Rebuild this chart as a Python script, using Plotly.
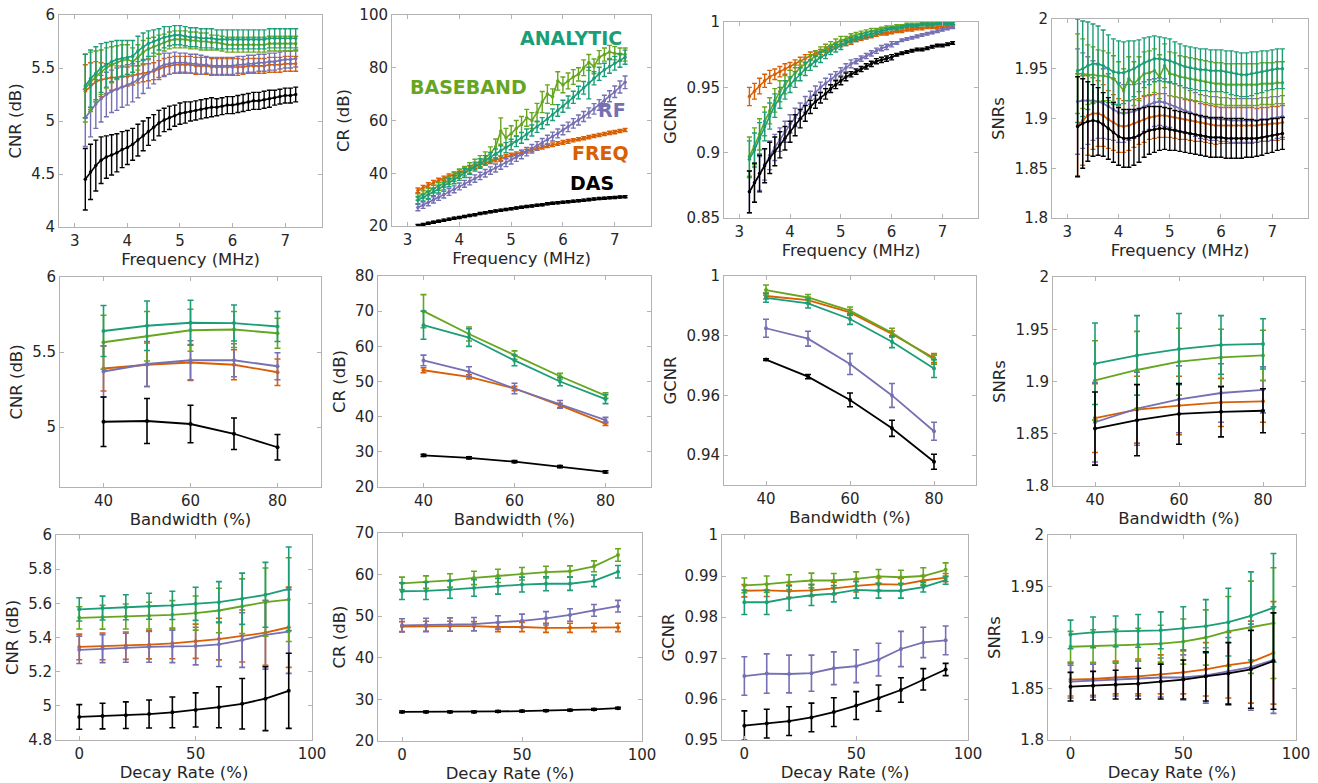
import plotly.graph_objects as go

W, H = 1318, 783

# ---------------- x values ----------------
freq = [3.2, 3.3, 3.4, 3.5, 3.6, 3.7, 3.8, 3.9, 4.0, 4.1,
        4.2, 4.3, 4.4, 4.5, 4.6, 4.7, 4.8, 4.9, 5.0, 5.1,
        5.2, 5.3, 5.4, 5.5, 5.6, 5.7, 5.8, 5.9, 6.0, 6.1,
        6.2, 6.3, 6.4, 6.5, 6.6, 6.7, 6.8, 6.9, 7.0, 7.1, 7.2]
bandwidth = [40, 50, 60, 70, 80]
decay = [0, 10, 20, 30, 40, 50, 60, 70, 80, 90]

# ---------------- CNR vs frequency ----------------
cnr_f_das = [4.45, 4.52, 4.58, 4.63, 4.66, 4.68, 4.70, 4.73, 4.75, 4.78,
             4.82, 4.86, 4.90, 4.94, 4.98, 5.01, 5.03, 5.05, 5.07, 5.08,
             5.09, 5.10, 5.11, 5.12, 5.13, 5.13, 5.14, 5.15, 5.15, 5.16,
             5.17, 5.18, 5.19, 5.19, 5.20, 5.21, 5.22, 5.23, 5.24, 5.24, 5.25]
cnr_f_das_e = [0.29, 0.26, 0.24, 0.22, 0.20, 0.19, 0.18, 0.17, 0.16, 0.15,
               0.15, 0.14, 0.13, 0.12, 0.12, 0.11, 0.11, 0.10, 0.10, 0.10,
               0.09, 0.09, 0.09, 0.09, 0.09, 0.08, 0.08, 0.08, 0.08, 0.08,
               0.08, 0.08, 0.08, 0.08, 0.08, 0.08, 0.07, 0.07, 0.07, 0.07, 0.07]
cnr_f_freq = [5.28, 5.33, 5.37, 5.39, 5.40, 5.41, 5.41, 5.42, 5.42, 5.43,
              5.44, 5.45, 5.46, 5.47, 5.49, 5.51, 5.52, 5.53, 5.53, 5.53,
              5.53, 5.52, 5.52, 5.52, 5.51, 5.51, 5.51, 5.51, 5.51, 5.51,
              5.51, 5.52, 5.52, 5.52, 5.52, 5.53, 5.53, 5.53, 5.54, 5.54, 5.54]
cnr_f_freq_e = [0.25, 0.22, 0.19, 0.16, 0.14, 0.12, 0.11, 0.10, 0.09, 0.09,
                0.08, 0.08, 0.08, 0.08, 0.08, 0.08, 0.08, 0.08, 0.08, 0.08,
                0.08, 0.08, 0.08, 0.08, 0.08, 0.08, 0.08, 0.08, 0.08, 0.08,
                0.07, 0.07, 0.07, 0.07, 0.07, 0.07, 0.07, 0.07, 0.07, 0.07, 0.07]
cnr_f_rf = [5.03, 5.10, 5.16, 5.21, 5.25, 5.28, 5.30, 5.32, 5.34, 5.36,
            5.39, 5.42, 5.45, 5.48, 5.51, 5.53, 5.54, 5.55, 5.55, 5.55,
            5.54, 5.54, 5.53, 5.53, 5.52, 5.52, 5.52, 5.52, 5.52, 5.53,
            5.53, 5.54, 5.54, 5.55, 5.55, 5.56, 5.56, 5.57, 5.58, 5.58, 5.59]
cnr_f_rf_e = [0.27, 0.25, 0.23, 0.22, 0.21, 0.20, 0.20, 0.19, 0.19, 0.18,
              0.17, 0.16, 0.14, 0.13, 0.12, 0.11, 0.10, 0.10, 0.09, 0.09,
              0.09, 0.09, 0.09, 0.08, 0.08, 0.08, 0.08, 0.08, 0.08, 0.08,
              0.08, 0.08, 0.08, 0.08, 0.08, 0.08, 0.08, 0.08, 0.08, 0.08, 0.08]
cnr_f_base = [5.31, 5.37, 5.42, 5.46, 5.50, 5.53, 5.55, 5.57, 5.58, 5.56,
              5.60, 5.65, 5.68, 5.70, 5.72, 5.74, 5.76, 5.77, 5.77, 5.77,
              5.76, 5.76, 5.75, 5.75, 5.74, 5.74, 5.73, 5.72, 5.72, 5.72,
              5.72, 5.72, 5.72, 5.72, 5.72, 5.73, 5.73, 5.73, 5.73, 5.73, 5.73]
cnr_f_base_e = [0.32, 0.28, 0.24, 0.21, 0.19, 0.17, 0.16, 0.15, 0.14, 0.13,
                0.12, 0.11, 0.10, 0.09, 0.09, 0.08, 0.08, 0.08, 0.08, 0.08,
                0.08, 0.08, 0.08, 0.08, 0.07, 0.07, 0.07, 0.07, 0.07, 0.07,
                0.07, 0.07, 0.07, 0.07, 0.07, 0.07, 0.07, 0.07, 0.07, 0.07, 0.07]
cnr_f_ana = [5.33, 5.40, 5.45, 5.50, 5.53, 5.56, 5.58, 5.59, 5.60, 5.61,
             5.66, 5.70, 5.73, 5.75, 5.77, 5.79, 5.80, 5.81, 5.81, 5.80,
             5.79, 5.79, 5.78, 5.78, 5.78, 5.77, 5.77, 5.77, 5.77, 5.77,
             5.77, 5.77, 5.77, 5.77, 5.77, 5.78, 5.78, 5.78, 5.78, 5.78, 5.78]
cnr_f_ana_e = [0.30, 0.27, 0.25, 0.23, 0.21, 0.19, 0.18, 0.17, 0.16, 0.15,
               0.14, 0.13, 0.12, 0.11, 0.10, 0.10, 0.09, 0.09, 0.09, 0.09,
               0.09, 0.09, 0.09, 0.09, 0.09, 0.09, 0.09, 0.09, 0.09, 0.09,
               0.09, 0.09, 0.09, 0.09, 0.09, 0.09, 0.09, 0.09, 0.09, 0.09, 0.09]

# ---------------- CR vs frequency ----------------
cr_f_das = [20.2, 20.6, 21.0, 21.4, 21.8, 22.2, 22.6, 22.9, 23.2, 23.6,
            24.0, 24.3, 24.7, 25.0, 25.4, 25.7, 26.0, 26.3, 26.5, 26.8,
            27.1, 27.4, 27.6, 27.9, 28.1, 28.4, 28.6, 28.8, 29.0, 29.2,
            29.4, 29.6, 29.8, 30.0, 30.2, 30.4, 30.5, 30.7, 30.8, 31.0, 31.1]
cr_f_das_e = [0.4, 0.4, 0.4, 0.4, 0.4, 0.4, 0.4, 0.4, 0.4, 0.4,
              0.4, 0.4, 0.4, 0.4, 0.4, 0.4, 0.4, 0.4, 0.4, 0.4,
              0.4, 0.4, 0.4, 0.4, 0.4, 0.4, 0.4, 0.4, 0.4, 0.4,
              0.4, 0.4, 0.4, 0.4, 0.4, 0.4, 0.4, 0.4, 0.4, 0.4, 0.4]
cr_f_freq = [33.5, 34.5, 35.5, 36.4, 37.3, 38.1, 38.9, 39.7, 40.5, 41.2,
             41.9, 42.6, 43.3, 43.9, 44.5, 45.1, 45.7, 46.3, 46.9, 47.4,
             47.9, 48.4, 48.9, 49.4, 49.9, 50.4, 50.8, 51.3, 51.7, 52.1,
             52.5, 52.9, 53.3, 53.7, 54.1, 54.5, 54.9, 55.3, 55.6, 56.0, 56.4]
cr_f_freq_e = [0.9, 0.9, 0.9, 0.9, 0.8, 0.8, 0.8, 0.8, 0.8, 0.8,
               0.8, 0.8, 0.8, 0.8, 0.8, 0.8, 0.8, 0.7, 0.7, 0.7,
               0.7, 0.7, 0.7, 0.7, 0.7, 0.7, 0.7, 0.7, 0.7, 0.7,
               0.6, 0.6, 0.6, 0.6, 0.6, 0.6, 0.6, 0.6, 0.6, 0.6, 0.6]
cr_f_rf = [27.0, 27.9, 28.9, 29.9, 30.9, 31.9, 32.9, 33.9, 35.0, 36.0,
           37.0, 38.0, 39.0, 40.0, 41.0, 42.0, 43.0, 44.0, 45.0, 46.0,
           47.1, 48.2, 49.3, 50.4, 51.5, 52.7, 53.9, 55.1, 56.4, 57.6,
           58.9, 60.2, 61.5, 62.9, 64.4, 65.9, 67.5, 69.2, 70.9, 72.7, 74.5]
cr_f_rf_e = [1.2, 1.2, 1.2, 1.2, 1.2, 1.3, 1.3, 1.3, 1.3, 1.3,
             1.4, 1.4, 1.4, 1.4, 1.4, 1.5, 1.5, 1.5, 1.5, 1.5,
             1.6, 1.6, 1.6, 1.6, 1.7, 1.7, 1.7, 1.7, 1.8, 1.8,
             1.8, 1.9, 1.9, 1.9, 2.0, 2.0, 2.1, 2.1, 2.2, 2.3, 2.4]
cr_f_base = [31.0, 32.0, 33.0, 34.0, 35.0, 36.2, 37.4, 38.6, 39.8, 40.8,
             42.0, 43.3, 44.5, 45.8, 47.5, 50.0, 56.0, 53.5, 55.0, 57.0,
             58.5, 61.0, 60.0, 63.0, 67.0, 70.0, 69.0, 75.0, 73.5, 75.0,
             76.5, 77.5, 80.0, 82.0, 80.5, 84.0, 85.0, 86.0, 85.5, 85.0, 85.0]
cr_f_base_e = [1.2, 1.3, 1.3, 1.4, 1.5, 1.5, 1.6, 1.7, 1.8, 1.8,
               2.0, 2.0, 2.2, 2.3, 2.5, 3.0, 5.0, 3.5, 3.0, 3.0,
               3.0, 3.2, 3.0, 3.5, 4.0, 3.5, 3.0, 3.5, 3.0, 3.0,
               2.8, 2.5, 3.0, 3.0, 2.8, 2.5, 2.5, 2.5, 2.5, 2.5, 2.5]
cr_f_ana = [29.8, 30.8, 31.8, 32.9, 34.0, 35.2, 36.4, 37.6, 38.9, 40.1,
            41.3, 42.5, 43.7, 44.9, 46.1, 47.3, 48.5, 49.7, 50.9, 52.1,
            53.4, 54.8, 56.2, 57.6, 59.0, 60.6, 62.2, 63.8, 65.4, 67.0,
            68.8, 70.6, 72.4, 74.2, 76.0, 77.7, 79.2, 80.5, 81.7, 82.8, 84.0]
cr_f_ana_e = [1.3, 1.3, 1.4, 1.4, 1.5, 1.5, 1.5, 1.6, 1.6, 1.7,
              1.7, 1.7, 1.8, 1.8, 1.8, 1.9, 1.9, 1.9, 2.0, 2.0,
              2.0, 2.0, 2.1, 2.1, 2.1, 2.2, 2.2, 2.2, 2.3, 2.3,
              2.3, 2.4, 2.4, 6.0, 2.5, 2.5, 2.5, 2.6, 2.6, 2.6, 2.7]

# ---------------- GCNR vs frequency ----------------
gc_f_das = [0.870, 0.877, 0.884, 0.890, 0.896, 0.901, 0.906, 0.911, 0.916, 0.921,
            0.926, 0.930, 0.935, 0.939, 0.942, 0.945, 0.949, 0.952, 0.955, 0.958,
            0.960, 0.962, 0.964, 0.966, 0.968, 0.970, 0.971, 0.972, 0.973, 0.975,
            0.976, 0.977, 0.978, 0.979, 0.979, 0.980, 0.981, 0.982, 0.982, 0.983, 0.984]
gc_f_das_e = [0.016, 0.015, 0.014, 0.013, 0.012, 0.011, 0.010, 0.009, 0.008, 0.008,
              0.007, 0.006, 0.005, 0.005, 0.004, 0.004, 0.003, 0.003, 0.003, 0.003,
              0.002, 0.002, 0.002, 0.002, 0.002, 0.002, 0.002, 0.002, 0.002, 0.001,
              0.001, 0.001, 0.001, 0.001, 0.001, 0.001, 0.001, 0.001, 0.001, 0.001, 0.001]
gc_f_freq = [0.943, 0.947, 0.951, 0.955, 0.958, 0.960, 0.962, 0.964, 0.966, 0.968,
             0.970, 0.972, 0.974, 0.976, 0.977, 0.979, 0.980, 0.982, 0.983, 0.984,
             0.985, 0.986, 0.987, 0.988, 0.989, 0.990, 0.991, 0.991, 0.992, 0.993,
             0.993, 0.994, 0.994, 0.995, 0.995, 0.996, 0.996, 0.996, 0.997, 0.997, 0.997]
gc_f_freq_e = [0.007, 0.006, 0.006, 0.005, 0.005, 0.004, 0.004, 0.004, 0.003, 0.003,
               0.003, 0.003, 0.003, 0.002, 0.002, 0.002, 0.002, 0.002, 0.002, 0.002,
               0.002, 0.001, 0.001, 0.001, 0.001, 0.001, 0.001, 0.001, 0.001, 0.001,
               0.001, 0.001, 0.001, 0.001, 0.001, 0.001, 0.001, 0.001, 0.001, 0.001, 0.001]
gc_f_rf = [0.870, 0.877, 0.884, 0.891, 0.898, 0.904, 0.910, 0.916, 0.922, 0.927,
           0.932, 0.937, 0.942, 0.946, 0.950, 0.953, 0.956, 0.959, 0.962, 0.965,
           0.968, 0.970, 0.972, 0.974, 0.976, 0.978, 0.980, 0.981, 0.983, 0.984,
           0.986, 0.987, 0.988, 0.989, 0.990, 0.991, 0.992, 0.993, 0.994, 0.995, 0.996]
gc_f_rf_e = [0.016, 0.015, 0.013, 0.012, 0.011, 0.010, 0.009, 0.008, 0.007, 0.007,
             0.006, 0.006, 0.005, 0.005, 0.004, 0.004, 0.004, 0.003, 0.003, 0.003,
             0.003, 0.002, 0.002, 0.002, 0.002, 0.002, 0.002, 0.002, 0.002, 0.001,
             0.001, 0.001, 0.001, 0.001, 0.001, 0.001, 0.001, 0.001, 0.001, 0.001, 0.001]
gc_f_base = [0.897, 0.905, 0.914, 0.924, 0.932, 0.940, 0.947, 0.952, 0.957, 0.961,
             0.965, 0.968, 0.971, 0.974, 0.977, 0.980, 0.982, 0.984, 0.986, 0.987,
             0.989, 0.990, 0.991, 0.992, 0.993, 0.994, 0.995, 0.996, 0.996, 0.997,
             0.997, 0.998, 0.998, 0.998, 0.999, 0.999, 0.999, 0.999, 0.999, 0.999, 0.999]
gc_f_base_e = [0.015, 0.014, 0.012, 0.011, 0.010, 0.009, 0.008, 0.007, 0.006, 0.006,
               0.005, 0.005, 0.004, 0.004, 0.004, 0.003, 0.003, 0.003, 0.003, 0.002,
               0.002, 0.002, 0.002, 0.002, 0.002, 0.001, 0.001, 0.001, 0.001, 0.001,
               0.001, 0.001, 0.001, 0.001, 0.001, 0.001, 0.001, 0.001, 0.001, 0.001, 0.001]
gc_f_ana = [0.895, 0.902, 0.911, 0.920, 0.928, 0.936, 0.942, 0.948, 0.952, 0.956,
            0.960, 0.964, 0.967, 0.970, 0.973, 0.975, 0.978, 0.980, 0.982, 0.984,
            0.986, 0.987, 0.989, 0.990, 0.991, 0.992, 0.993, 0.994, 0.995, 0.995,
            0.996, 0.997, 0.997, 0.997, 0.998, 0.998, 0.998, 0.999, 0.999, 0.999, 0.999]
gc_f_ana_e = [0.014, 0.013, 0.012, 0.011, 0.010, 0.009, 0.008, 0.007, 0.006, 0.006,
              0.005, 0.005, 0.004, 0.004, 0.004, 0.003, 0.003, 0.003, 0.003, 0.002,
              0.002, 0.002, 0.002, 0.002, 0.002, 0.001, 0.001, 0.001, 0.001, 0.001,
              0.001, 0.001, 0.001, 0.001, 0.001, 0.001, 0.001, 0.001, 0.001, 0.001, 0.001]

# ---------------- SNRs vs frequency ----------------
snr_f_das = [1.892, 1.895, 1.897, 1.898, 1.897, 1.894, 1.890, 1.886, 1.882, 1.880,
             1.880, 1.881, 1.883, 1.886, 1.888, 1.889, 1.890, 1.890, 1.889, 1.888,
             1.887, 1.886, 1.885, 1.884, 1.883, 1.882, 1.881, 1.881, 1.881, 1.880,
             1.880, 1.880, 1.880, 1.880, 1.880, 1.880, 1.881, 1.882, 1.883, 1.884, 1.885]
snr_f_das_e = [0.050, 0.045, 0.040, 0.036, 0.034, 0.032, 0.031, 0.030, 0.029, 0.029,
               0.029, 0.028, 0.027, 0.025, 0.024, 0.023, 0.022, 0.021, 0.021, 0.020,
               0.020, 0.020, 0.020, 0.020, 0.020, 0.020, 0.020, 0.020, 0.020, 0.020,
               0.020, 0.020, 0.020, 0.019, 0.019, 0.018, 0.018, 0.017, 0.017, 0.016, 0.016]
snr_f_freq = [1.893, 1.898, 1.903, 1.905, 1.905, 1.903, 1.899, 1.896, 1.893, 1.892,
              1.893, 1.895, 1.897, 1.899, 1.901, 1.902, 1.903, 1.903, 1.902, 1.901,
              1.900, 1.899, 1.898, 1.897, 1.896, 1.895, 1.894, 1.893, 1.893, 1.893,
              1.893, 1.893, 1.893, 1.893, 1.893, 1.893, 1.894, 1.894, 1.895, 1.895, 1.896]
snr_f_freq_e = [0.052, 0.045, 0.040, 0.036, 0.033, 0.031, 0.029, 0.028, 0.027, 0.026,
                0.025, 0.024, 0.023, 0.023, 0.022, 0.022, 0.022, 0.022, 0.021, 0.021,
                0.021, 0.020, 0.020, 0.020, 0.019, 0.019, 0.019, 0.019, 0.018, 0.018,
                0.018, 0.018, 0.018, 0.018, 0.018, 0.017, 0.017, 0.017, 0.017, 0.017, 0.017]
snr_f_rf = [1.917, 1.918, 1.918, 1.918, 1.917, 1.915, 1.912, 1.909, 1.906, 1.905,
            1.906, 1.907, 1.909, 1.912, 1.914, 1.916, 1.917, 1.916, 1.914, 1.912,
            1.910, 1.908, 1.906, 1.904, 1.902, 1.901, 1.900, 1.900, 1.899, 1.899,
            1.898, 1.898, 1.898, 1.898, 1.898, 1.898, 1.899, 1.899, 1.900, 1.901, 1.902]
snr_f_rf_e = [0.053, 0.048, 0.044, 0.040, 0.037, 0.035, 0.033, 0.031, 0.030, 0.029,
              0.028, 0.027, 0.026, 0.025, 0.025, 0.024, 0.024, 0.024, 0.023, 0.023,
              0.023, 0.023, 0.022, 0.022, 0.022, 0.022, 0.022, 0.022, 0.022, 0.022,
              0.022, 0.022, 0.022, 0.022, 0.022, 0.022, 0.022, 0.022, 0.022, 0.021, 0.021]
snr_f_base = [1.945, 1.945, 1.944, 1.944, 1.943, 1.943, 1.942, 1.940, 1.935, 1.928,
              1.940, 1.935, 1.940, 1.945, 1.946, 1.948, 1.942, 1.953, 1.945, 1.944,
              1.942, 1.941, 1.940, 1.939, 1.938, 1.937, 1.936, 1.935, 1.935, 1.934,
              1.934, 1.934, 1.934, 1.934, 1.934, 1.934, 1.935, 1.935, 1.935, 1.936, 1.936]
snr_f_base_e = [0.040, 0.035, 0.030, 0.028, 0.026, 0.025, 0.024, 0.023, 0.022, 0.022,
                0.022, 0.022, 0.022, 0.022, 0.022, 0.022, 0.022, 0.022, 0.022, 0.022,
                0.021, 0.021, 0.021, 0.021, 0.021, 0.021, 0.021, 0.021, 0.021, 0.021,
                0.021, 0.021, 0.021, 0.021, 0.021, 0.021, 0.021, 0.021, 0.021, 0.021, 0.021]
snr_f_ana = [1.948, 1.950, 1.953, 1.955, 1.955, 1.953, 1.950, 1.947, 1.946, 1.946,
             1.948, 1.950, 1.953, 1.956, 1.958, 1.960, 1.960, 1.959, 1.958, 1.956,
             1.954, 1.952, 1.951, 1.950, 1.949, 1.949, 1.948, 1.948, 1.948, 1.947,
             1.946, 1.945, 1.944, 1.944, 1.945, 1.946, 1.947, 1.948, 1.949, 1.950, 1.950]
snr_f_ana_e = [0.052, 0.048, 0.044, 0.040, 0.038, 0.036, 0.034, 0.033, 0.032, 0.031,
               0.030, 0.028, 0.026, 0.025, 0.024, 0.023, 0.022, 0.022, 0.022, 0.021,
               0.021, 0.021, 0.021, 0.021, 0.021, 0.021, 0.021, 0.021, 0.021, 0.021,
               0.022, 0.022, 0.022, 0.022, 0.022, 0.021, 0.021, 0.020, 0.020, 0.020, 0.020]

# ---------------- Bandwidth panels ----------------
cnr_b_das = [5.035, 5.040, 5.020, 4.955, 4.865]
cnr_b_das_e = [0.165, 0.150, 0.125, 0.105, 0.085]
cnr_b_freq = [5.390, 5.415, 5.430, 5.415, 5.365]
cnr_b_freq_e = [0.150, 0.145, 0.120, 0.100, 0.088]
cnr_b_rf = [5.370, 5.420, 5.445, 5.445, 5.405]
cnr_b_rf_e = [0.170, 0.150, 0.130, 0.110, 0.090]
cnr_b_base = [5.565, 5.605, 5.645, 5.650, 5.625]
cnr_b_base_e = [0.180, 0.165, 0.140, 0.120, 0.100]
cnr_b_ana = [5.640, 5.675, 5.695, 5.693, 5.670]
cnr_b_ana_e = [0.170, 0.165, 0.150, 0.120, 0.100]

cr_b_das = [29.0, 28.3, 27.2, 25.8, 24.3]
cr_b_das_e = [0.3, 0.3, 0.3, 0.3, 0.3]
cr_b_freq = [53.2, 51.3, 48.0, 43.2, 38.0]
cr_b_freq_e = [0.7, 0.6, 0.6, 0.6, 0.5]
cr_b_rf = [56.0, 52.8, 48.0, 43.5, 39.0]
cr_b_rf_e = [1.5, 1.4, 1.5, 1.1, 0.8]
cr_b_base = [70.0, 63.5, 57.5, 51.5, 46.0]
cr_b_base_e = [4.7, 2.0, 1.2, 0.8, 0.8]
cr_b_ana = [66.0, 62.5, 56.0, 50.0, 45.0]
cr_b_ana_e = [4.0, 2.5, 1.5, 1.2, 1.3]

gc_b_das = [0.9720, 0.9663, 0.9585, 0.9490, 0.9378]
gc_b_das_e = [0.0003, 0.0007, 0.0023, 0.0027, 0.0025]
gc_b_freq = [0.9933, 0.9919, 0.9878, 0.9806, 0.9725]
gc_b_freq_e = [0.0010, 0.0010, 0.0010, 0.0010, 0.0015]
gc_b_rf = [0.9825, 0.9790, 0.9705, 0.9600, 0.9480]
gc_b_rf_e = [0.0030, 0.0025, 0.0035, 0.0040, 0.0030]
gc_b_base = [0.9953, 0.9928, 0.9884, 0.9810, 0.9720]
gc_b_base_e = [0.0017, 0.0010, 0.0012, 0.0015, 0.0015]
gc_b_ana = [0.9927, 0.9908, 0.9856, 0.9780, 0.9690]
gc_b_ana_e = [0.0015, 0.0015, 0.0018, 0.0020, 0.0030]

snr_b_das = [1.855, 1.863, 1.869, 1.871, 1.872]
snr_b_das_e = [0.035, 0.034, 0.029, 0.024, 0.021]
snr_b_freq = [1.865, 1.873, 1.877, 1.880, 1.881]
snr_b_freq_e = [0.033, 0.032, 0.028, 0.023, 0.020]
snr_b_rf = [1.861, 1.874, 1.883, 1.889, 1.892]
snr_b_rf_e = [0.038, 0.035, 0.032, 0.028, 0.022]
snr_b_base = [1.901, 1.911, 1.919, 1.923, 1.925]
snr_b_base_e = [0.038, 0.037, 0.032, 0.027, 0.024]
snr_b_ana = [1.917, 1.925, 1.931, 1.935, 1.936]
snr_b_ana_e = [0.039, 0.038, 0.034, 0.028, 0.024]

# ---------------- Decay rate panels ----------------
cnr_d_das = [4.935, 4.940, 4.945, 4.952, 4.962, 4.976, 4.992, 5.012, 5.042, 5.088]
cnr_d_das_e = [0.072, 0.075, 0.078, 0.082, 0.090, 0.100, 0.120, 0.148, 0.187, 0.220]
cnr_d_freq = [5.345, 5.348, 5.352, 5.358, 5.366, 5.378, 5.391, 5.409, 5.428, 5.460]
cnr_d_freq_e = [0.075, 0.078, 0.080, 0.083, 0.090, 0.100, 0.122, 0.152, 0.190, 0.235]
cnr_d_rf = [5.328, 5.335, 5.340, 5.345, 5.348, 5.350, 5.360, 5.385, 5.415, 5.435]
cnr_d_rf_e = [0.080, 0.082, 0.085, 0.090, 0.095, 0.110, 0.130, 0.160, 0.200, 0.245]
cnr_d_base = [5.515, 5.519, 5.523, 5.528, 5.533, 5.543, 5.558, 5.583, 5.607, 5.622]
cnr_d_base_e = [0.065, 0.070, 0.073, 0.078, 0.083, 0.100, 0.130, 0.160, 0.200, 0.245]
cnr_d_ana = [5.565, 5.572, 5.577, 5.583, 5.588, 5.597, 5.607, 5.627, 5.650, 5.685]
cnr_d_ana_e = [0.068, 0.070, 0.073, 0.076, 0.083, 0.097, 0.120, 0.150, 0.190, 0.245]

cr_d_das = [27.0, 27.0, 27.0, 27.0, 27.1, 27.2, 27.3, 27.4, 27.6, 27.9]
cr_d_das_e = [0.2, 0.2, 0.2, 0.2, 0.2, 0.2, 0.2, 0.2, 0.2, 0.2]
cr_d_freq = [47.5, 47.6, 47.6, 47.6, 47.4, 47.4, 47.2, 47.2, 47.3, 47.3]
cr_d_freq_e = [1.2, 1.2, 1.2, 1.1, 1.1, 1.1, 1.1, 1.1, 1.0, 1.0]
cr_d_rf = [47.8, 47.9, 48.0, 48.1, 48.5, 48.9, 49.5, 50.3, 51.4, 52.4]
cr_d_rf_e = [1.6, 1.6, 1.6, 1.6, 1.6, 1.6, 1.6, 1.5, 1.4, 1.4]
cr_d_base = [57.9, 58.2, 58.6, 59.2, 59.7, 60.2, 60.6, 60.8, 62.0, 64.7]
cr_d_base_e = [1.5, 1.5, 1.6, 1.6, 1.6, 1.5, 1.4, 1.3, 1.3, 1.5]
cr_d_ana = [56.0, 56.1, 56.4, 56.8, 57.2, 57.6, 57.8, 57.8, 58.5, 60.7]
cr_d_ana_e = [2.0, 2.1, 2.1, 2.0, 1.9, 1.8, 1.7, 1.6, 1.4, 1.5]

gc_d_das = [0.9535, 0.9540, 0.9546, 0.9555, 0.9568, 0.9584, 0.9602, 0.9622, 0.9648, 0.9672]
gc_d_das_e = [0.0036, 0.0035, 0.0035, 0.0035, 0.0035, 0.0034, 0.0032, 0.0030, 0.0026, 0.0015]
gc_d_freq = [0.9864, 0.9865, 0.9863, 0.9865, 0.9870, 0.9876, 0.9880, 0.9879, 0.9889, 0.9896]
gc_d_freq_e = [0.0015, 0.0015, 0.0015, 0.0015, 0.0015, 0.0015, 0.0015, 0.0015, 0.0012, 0.0010]
gc_d_rf = [0.9656, 0.9662, 0.9661, 0.9663, 0.9675, 0.9680, 0.9696, 0.9722, 0.9738, 0.9743]
gc_d_rf_e = [0.0047, 0.0048, 0.0046, 0.0044, 0.0040, 0.0040, 0.0040, 0.0043, 0.0037, 0.0035]
gc_d_base = [0.9877, 0.9880, 0.9885, 0.9889, 0.9889, 0.9893, 0.9899, 0.9897, 0.9900, 0.9915]
gc_d_base_e = [0.0018, 0.0020, 0.0018, 0.0018, 0.0017, 0.0017, 0.0017, 0.0017, 0.0020, 0.0017]
gc_d_ana = [0.9836, 0.9836, 0.9846, 0.9853, 0.9857, 0.9866, 0.9864, 0.9864, 0.9873, 0.9890]
gc_d_ana_e = [0.0030, 0.0030, 0.0030, 0.0025, 0.0020, 0.0020, 0.0018, 0.0018, 0.0012, 0.0010]

snr_d_das = [1.852, 1.853, 1.854, 1.855, 1.857, 1.859, 1.862, 1.865, 1.869, 1.877]
snr_d_das_e = [0.014, 0.014, 0.014, 0.015, 0.017, 0.019, 0.024, 0.030, 0.038, 0.047]
snr_d_freq = [1.859, 1.8595, 1.861, 1.862, 1.864, 1.866, 1.869, 1.873, 1.876, 1.885]
snr_d_freq_e = [0.016, 0.016, 0.016, 0.017, 0.019, 0.021, 0.026, 0.032, 0.040, 0.050]
snr_d_rf = [1.857, 1.858, 1.859, 1.860, 1.861, 1.861, 1.863, 1.867, 1.871, 1.878]
snr_d_rf_e = [0.016, 0.016, 0.016, 0.017, 0.019, 0.022, 0.027, 0.033, 0.042, 0.052]
snr_d_base = [1.891, 1.8915, 1.892, 1.893, 1.894, 1.896, 1.900, 1.906, 1.910, 1.914]
snr_d_base_e = [0.015, 0.016, 0.016, 0.016, 0.018, 0.022, 0.027, 0.034, 0.045, 0.054]
snr_d_ana = [1.903, 1.905, 1.906, 1.9065, 1.907, 1.909, 1.911, 1.915, 1.921, 1.929]
snr_d_ana_e = [0.014, 0.015, 0.015, 0.016, 0.018, 0.021, 0.026, 0.033, 0.043, 0.053]

# ---------------- tick labels ----------------
ticks_cnr_f = [4, 4.5, 5, 5.5, 6]
ticks_cr_f = [20, 40, 60, 80, 100]
ticks_gc_f = [0.85, 0.9, 0.95, 1]
ticks_snr = [1.8, 1.85, 1.9, 1.95, 2]
ticks_cnr_b = [5, 5.5, 6]
ticks_cr_b = [20, 30, 40, 50, 60, 70, 80]
ticks_gc_b = [0.94, 0.96, 0.98, 1]
ticks_cnr_d = [4.8, 5, 5.2, 5.4, 5.6, 5.8, 6]
ticks_cr_d = [20, 30, 40, 50, 60, 70]
ticks_gc_d = [0.95, 0.96, 0.97, 0.98, 0.99, 1]
ticks_freq = [3, 4, 5, 6, 7]
ticks_bw = [40, 60, 80]
ticks_decay = [0, 50, 100]

methods = ["FREQ", "RF", "BASEBAND", "ANALYTIC", "DAS"]
colors = {"DAS": "#000000", "FREQ": "#D95F02", "RF": "#7570B3",
          "BASEBAND": "#66A61E", "ANALYTIC": "#1B9E77"}

def fmt(v):
    s = ("%.3f" % v).rstrip("0").rstrip(".")
    return s

panels = [
    dict(x=freq, s={"DAS": (cnr_f_das, cnr_f_das_e), "FREQ": (cnr_f_freq, cnr_f_freq_e), "RF": (cnr_f_rf, cnr_f_rf_e),
                    "BASEBAND": (cnr_f_base, cnr_f_base_e), "ANALYTIC": (cnr_f_ana, cnr_f_ana_e)},
         box=(59, 322, 15, 227), xr=[2.7, 7.7], yr=[4, 6], xt=ticks_freq, yt=ticks_cnr_f,
         xl="Frequency (MHz)", yl="CNR (dB)"),
    dict(x=freq, s={"DAS": (cr_f_das, cr_f_das_e), "FREQ": (cr_f_freq, cr_f_freq_e), "RF": (cr_f_rf, cr_f_rf_e),
                    "BASEBAND": (cr_f_base, cr_f_base_e), "ANALYTIC": (cr_f_ana, cr_f_ana_e)},
         box=(392, 651, 15, 226), xr=[2.7, 7.7], yr=[20, 100], xt=ticks_freq, yt=ticks_cr_f,
         xl="Frequency (MHz)", yl="CR (dB)"),
    dict(x=freq, s={"DAS": (gc_f_das, gc_f_das_e), "FREQ": (gc_f_freq, gc_f_freq_e), "RF": (gc_f_rf, gc_f_rf_e),
                    "BASEBAND": (gc_f_base, gc_f_base_e), "ANALYTIC": (gc_f_ana, gc_f_ana_e)},
         box=(724, 978, 22, 218), xr=[2.7, 7.7], yr=[0.85, 1], xt=ticks_freq, yt=ticks_gc_f,
         xl="Frequency (MHz)", yl="GCNR"),
    dict(x=freq, s={"DAS": (snr_f_das, snr_f_das_e), "FREQ": (snr_f_freq, snr_f_freq_e), "RF": (snr_f_rf, snr_f_rf_e),
                    "BASEBAND": (snr_f_base, snr_f_base_e), "ANALYTIC": (snr_f_ana, snr_f_ana_e)},
         box=(1052, 1308, 19, 218), xr=[2.7, 7.7], yr=[1.8, 2], xt=ticks_freq, yt=ticks_snr,
         xl="Frequency (MHz)", yl="SNRs"),
    dict(x=bandwidth, s={"DAS": (cnr_b_das, cnr_b_das_e), "FREQ": (cnr_b_freq, cnr_b_freq_e), "RF": (cnr_b_rf, cnr_b_rf_e),
                         "BASEBAND": (cnr_b_base, cnr_b_base_e), "ANALYTIC": (cnr_b_ana, cnr_b_ana_e)},
         box=(60, 321, 277, 487), xr=[30, 90], yr=[4.6, 6], xt=ticks_bw, yt=ticks_cnr_b,
         xl="Bandwidth (%)", yl="CNR (dB)"),
    dict(x=bandwidth, s={"DAS": (cr_b_das, cr_b_das_e), "FREQ": (cr_b_freq, cr_b_freq_e), "RF": (cr_b_rf, cr_b_rf_e),
                         "BASEBAND": (cr_b_base, cr_b_base_e), "ANALYTIC": (cr_b_ana, cr_b_ana_e)},
         box=(378, 651, 276, 487), xr=[30, 90], yr=[20, 80], xt=ticks_bw, yt=ticks_cr_b,
         xl="Bandwidth (%)", yl="CR (dB)"),
    dict(x=bandwidth, s={"DAS": (gc_b_das, gc_b_das_e), "FREQ": (gc_b_freq, gc_b_freq_e), "RF": (gc_b_rf, gc_b_rf_e),
                         "BASEBAND": (gc_b_base, gc_b_base_e), "ANALYTIC": (gc_b_ana, gc_b_ana_e)},
         box=(724, 976, 276, 485), xr=[30, 90], yr=[0.93, 1], xt=ticks_bw, yt=ticks_gc_b,
         xl="Bandwidth (%)", yl="GCNR"),
    dict(x=bandwidth, s={"DAS": (snr_b_das, snr_b_das_e), "FREQ": (snr_b_freq, snr_b_freq_e), "RF": (snr_b_rf, snr_b_rf_e),
                         "BASEBAND": (snr_b_base, snr_b_base_e), "ANALYTIC": (snr_b_ana, snr_b_ana_e)},
         box=(1053, 1305, 277, 486), xr=[30, 90], yr=[1.8, 2], xt=ticks_bw, yt=ticks_snr,
         xl="Bandwidth (%)", yl="SNRs"),
    dict(x=decay, s={"DAS": (cnr_d_das, cnr_d_das_e), "FREQ": (cnr_d_freq, cnr_d_freq_e), "RF": (cnr_d_rf, cnr_d_rf_e),
                     "BASEBAND": (cnr_d_base, cnr_d_base_e), "ANALYTIC": (cnr_d_ana, cnr_d_ana_e)},
         box=(56, 312, 535, 740), xr=[-10, 100], yr=[4.8, 6], xt=ticks_decay, yt=ticks_cnr_d,
         xl="Decay Rate (%)", yl="CNR (dB)"),
    dict(x=decay, s={"DAS": (cr_d_das, cr_d_das_e), "FREQ": (cr_d_freq, cr_d_freq_e), "RF": (cr_d_rf, cr_d_rf_e),
                     "BASEBAND": (cr_d_base, cr_d_base_e), "ANALYTIC": (cr_d_ana, cr_d_ana_e)},
         box=(378, 642, 533, 741), xr=[-10, 100], yr=[20, 70], xt=ticks_decay, yt=ticks_cr_d,
         xl="Decay Rate (%)", yl="CR (dB)"),
    dict(x=decay, s={"DAS": (gc_d_das, gc_d_das_e), "FREQ": (gc_d_freq, gc_d_freq_e), "RF": (gc_d_rf, gc_d_rf_e),
                     "BASEBAND": (gc_d_base, gc_d_base_e), "ANALYTIC": (gc_d_ana, gc_d_ana_e)},
         box=(722, 968, 535, 740), xr=[-10, 100], yr=[0.95, 1], xt=ticks_decay, yt=ticks_gc_d,
         xl="Decay Rate (%)", yl="GCNR"),
    dict(x=decay, s={"DAS": (snr_d_das, snr_d_das_e), "FREQ": (snr_d_freq, snr_d_freq_e), "RF": (snr_d_rf, snr_d_rf_e),
                     "BASEBAND": (snr_d_base, snr_d_base_e), "ANALYTIC": (snr_d_ana, snr_d_ana_e)},
         box=(1048, 1296, 535, 740), xr=[-10, 100], yr=[1.8, 2], xt=ticks_decay, yt=ticks_snr,
         xl="Decay Rate (%)", yl="SNRs"),
]

FONT = "DejaVu Sans"
TXT = "#262626"
AX = "#b3b3b3"
TICK_SIZE = 15
TITLE_SIZE = 16.5

fig = go.Figure()
layout = dict(width=W, height=H, margin=dict(l=0, r=0, t=0, b=0),
              paper_bgcolor="white", plot_bgcolor="white", showlegend=False,
              font=dict(family=FONT, size=TICK_SIZE, color=TXT))

for i, p in enumerate(panels, start=1):
    dense = len(p["x"]) > 20
    for m in methods:
        yv, ev = p["s"][m]
        assert len(yv) == len(p["x"]) and len(ev) == len(p["x"]), (i, m)
        fig.add_trace(go.Scatter(
            x=p["x"], y=yv, mode="lines+markers",
            xaxis="x%d" % i, yaxis="y%d" % i,
            line=dict(color=colors[m], width=1.8 if not dense else 1.6),
            marker=dict(color=colors[m], size=4 if not dense else 3.5),
            error_y=dict(type="data", array=ev, visible=True, color=colors[m],
                         thickness=1.4 if dense else 1.6, width=2.5 if dense else 3),
            hoverinfo="skip"))
    l, r, t, b = p["box"]
    sfx = "" if i == 1 else str(i)
    common = dict(showline=True, linecolor=AX, linewidth=1, mirror="ticks",
                  ticks="inside", ticklen=4, tickcolor=AX, showgrid=False,
                  zeroline=False, automargin=False,
                  tickfont=dict(family=FONT, size=TICK_SIZE, color=TXT))
    layout["xaxis" + sfx] = dict(domain=[l / W, r / W], range=p["xr"], anchor="y%d" % i,
                                 tickvals=p["xt"], ticktext=[fmt(v) for v in p["xt"]],
                                 title=dict(text=p["xl"], standoff=1,
                                            font=dict(family=FONT, size=TITLE_SIZE, color=TXT)),
                                 **common)
    layout["yaxis" + sfx] = dict(domain=[1 - b / H, 1 - t / H], range=p["yr"], anchor="x%d" % i,
                                 tickvals=p["yt"], ticktext=[fmt(v) for v in p["yt"]],
                                 title=dict(text=p["yl"], standoff=5,
                                            font=dict(family=FONT, size=TITLE_SIZE, color=TXT)),
                                 **common)

# method labels in the CR-vs-frequency panel
label_text = ["ANALYTIC", "BASEBAND", "RF", "FREQ", "DAS"]
label_x = [6.15, 4.18, 6.94, 6.73, 6.56]
label_y = [91.3, 72.7, 64.0, 47.7, 36.4]
annotations = []
for txt, lx, ly in zip(label_text, label_x, label_y):
    annotations.append(dict(x=lx, y=ly, xref="x2", yref="y2", text="<b>%s</b>" % txt,
                            showarrow=False, font=dict(family=FONT, size=19, color=colors[txt])))
layout["annotations"] = annotations

fig.update_layout(**layout)
fig.write_html("out.html")
